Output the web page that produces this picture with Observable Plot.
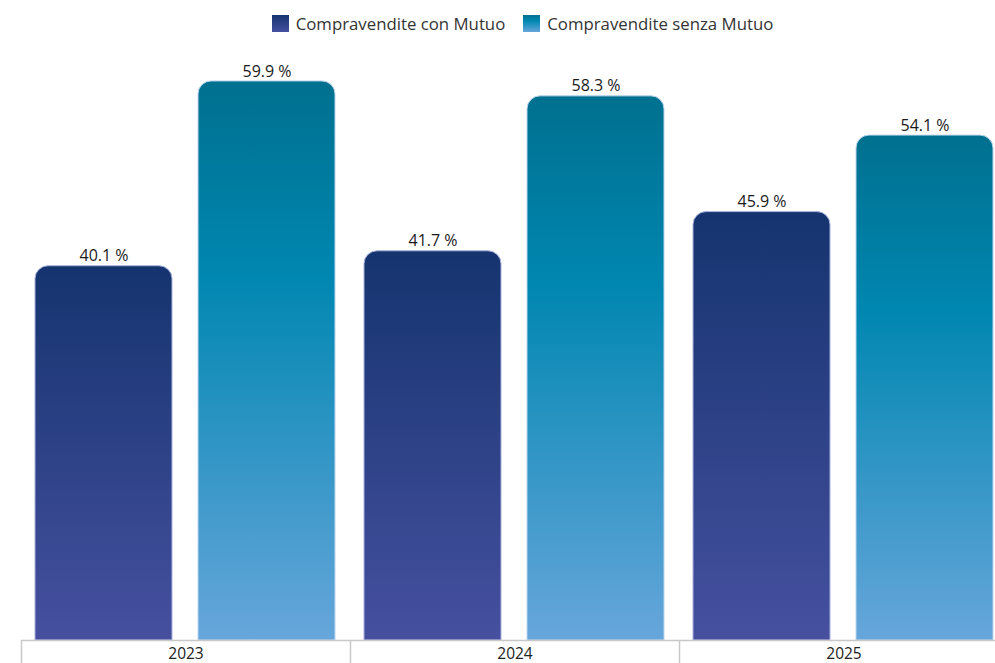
<!DOCTYPE html>
<html>
<head>
<meta charset="utf-8">
<script src="https://cdn.jsdelivr.net/npm/d3@7"></script>
<script src="https://cdn.jsdelivr.net/npm/@observablehq/plot@0.6"></script>
<style>
  html, body { margin: 0; padding: 0; background: #fff; overflow: hidden; }
  #wrap { position: relative; width: 995px; height: 663px; overflow: hidden; }
  #legend { position: absolute; top: 12px; left: 0; width: 1045px; display: flex; justify-content: center; gap: 18px;
            font-family: "Open Sans", sans-serif; font-size: 16.8px; color: #333; }
  #legend .item { display: flex; align-items: center; gap: 7px; }
  #legend .sw { width: 17px; height: 17px; }
  #chart { position: absolute; top: 0; left: 0; width: 1010px; }
  #chart svg { max-width: none !important; }
</style>
</head>
<body>
<div id="wrap">
  <div id="legend"></div>
  <div id="chart"></div>
</div>
<script>
const years = ["2023", "2024", "2025"];
const seriesNames = ["Compravendite con Mutuo", "Compravendite senza Mutuo"];
const conMutuo = [40.1, 41.7, 45.9];
const senzaMutuo = [59.9, 58.3, 54.1];

const data = [];
years.forEach((y, i) => {
  data.push({year: y, serie: seriesNames[0], value: conMutuo[i]});
  data.push({year: y, serie: seriesNames[1], value: senzaMutuo[i]});
});

const gradients = {
  gCon: [["0%", "#15346f"], ["100%", "#46509f"]],
  gSenza: [["0%", "#00708f"], ["35%", "#0087b1"], ["100%", "#67a6db"]]
};

// legend
const legend = document.getElementById("legend");
["linear-gradient(#15346f,#46509f)", "linear-gradient(#00708f,#0087b1 35%,#67a6db)"].forEach((css, i) => {
  const it = document.createElement("div");
  it.className = "item";
  const sw = document.createElement("div");
  sw.className = "sw";
  sw.style.background = css;
  const t = document.createElement("span");
  t.textContent = seriesNames[i];
  it.appendChild(sw); it.appendChild(t);
  legend.appendChild(it);
});

function defsMark() {
  const ns = "http://www.w3.org/2000/svg";
  const defs = document.createElementNS(ns, "defs");
  for (const [id, stops] of Object.entries(gradients)) {
    const lg = document.createElementNS(ns, "linearGradient");
    lg.setAttribute("id", id);
    lg.setAttribute("x1", "0"); lg.setAttribute("y1", "0");
    lg.setAttribute("x2", "0"); lg.setAttribute("y2", "1");
    for (const [off, col] of stops) {
      const s = document.createElementNS(ns, "stop");
      s.setAttribute("offset", off);
      s.setAttribute("stop-color", col);
      lg.appendChild(s);
    }
    defs.appendChild(lg);
  }
  return defs;
}

const chart = Plot.plot({
  width: 1010,
  height: 663,
  marginLeft: 21,
  marginRight: 2,
  marginTop: 80,
  marginBottom: 23,
  style: {fontFamily: "'Open Sans', sans-serif", background: "transparent", overflow: "visible", maxWidth: "none"},
  fx: {domain: years, paddingInner: 0, paddingOuter: 0, label: null},
  x: {domain: seriesNames, paddingInner: 0.1585, paddingOuter: 0.0823, axis: null},
  y: {domain: [0, 60], axis: null},
  marks: [
    defsMark,
    Plot.barY(data.filter(d => d.serie === seriesNames[0]), {
      fx: "year", x: "serie", y: "value", fill: "url(#gCon)", stroke: "#a9b1de", strokeWidth: 1, ry1: 13
    }),
    Plot.barY(data.filter(d => d.serie === seriesNames[1]), {
      fx: "year", x: "serie", y: "value", fill: "url(#gSenza)", stroke: "#bcd6ee", strokeWidth: 1, ry1: 13
    }),
    Plot.text(data, {
      fx: "year", x: "serie", y: "value", text: d => d3.format(".1f")(d.value) + " %",
      dy: -10, fontSize: 16, fill: "#1a1a1a"
    }),
    Plot.ruleY([0], {stroke: "#c8c8c8", strokeWidth: 1.5}),
    Plot.axisFx({anchor: "bottom", tickSize: 23, tickFormat: () => "", dx: -164.5, stroke: "#c8c8c8", strokeWidth: 1.5}),
    Plot.axisFx({anchor: "bottom", tickSize: 0, tickPadding: 7, fontSize: 15.5, fill: "#222", label: null})
  ]
});
document.getElementById("chart").appendChild(chart);
</script>
</body>
</html>
